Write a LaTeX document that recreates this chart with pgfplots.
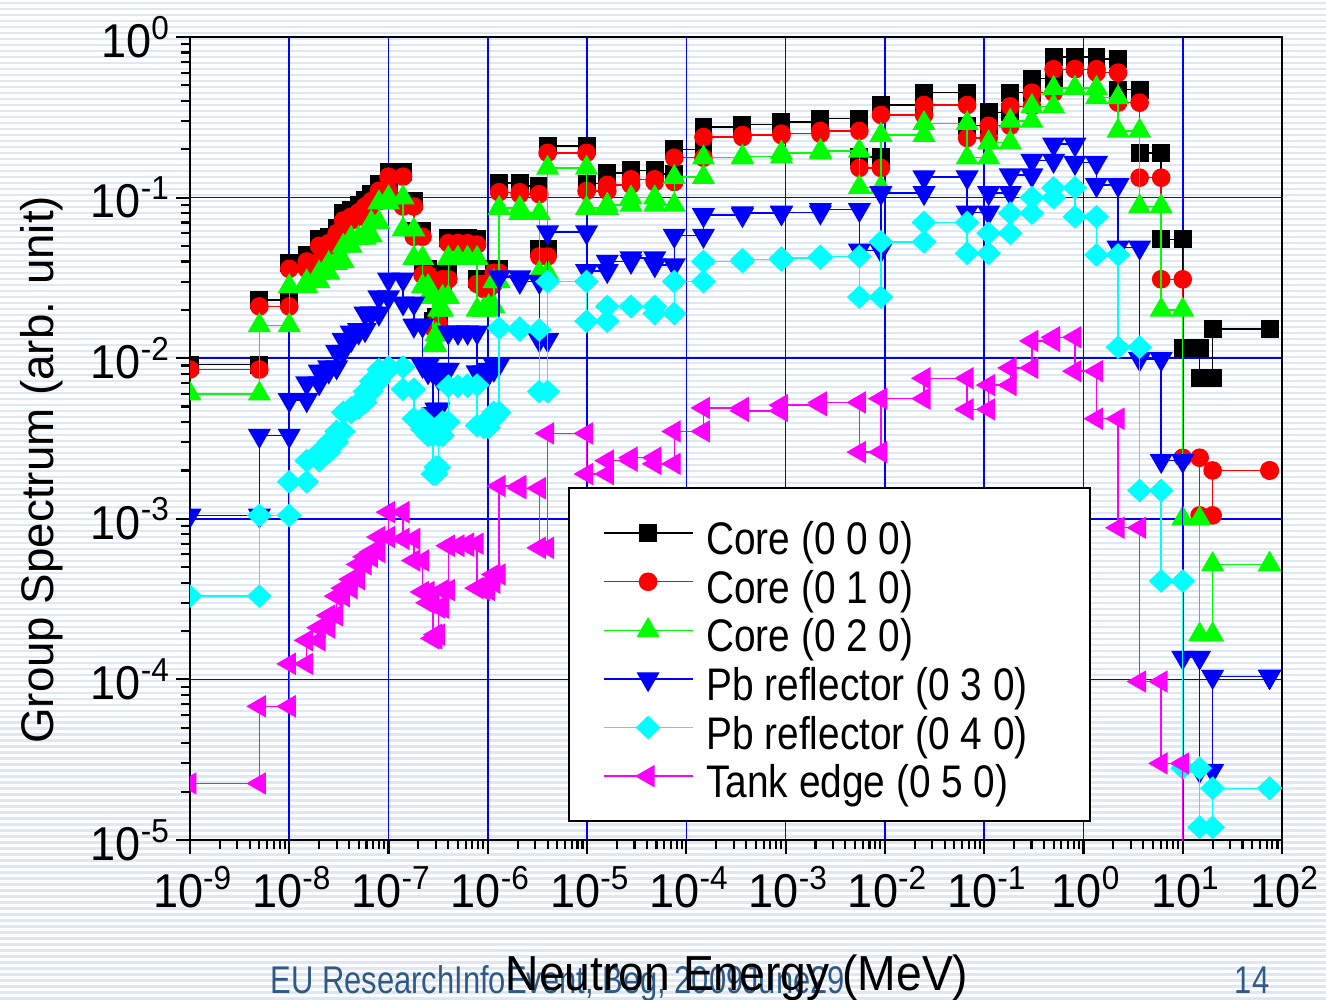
\documentclass[border=0pt]{standalone}
\usepackage{fontspec}
\setmainfont{Liberation Sans}
\newfontfamily\tickfont[FakeStretch=0.95]{Liberation Sans}
\newfontfamily\legfont[FakeStretch=0.85]{Liberation Sans}
\newfontfamily\labfont[FakeStretch=0.94]{Liberation Sans}
\newfontfamily\footfont[FakeStretch=0.8]{Liberation Sans}
\usepackage{pgfplots}
\usepackage{pgfplotstable}
\pgfplotsset{compat=1.18}
\definecolor{pred}{HTML}{FF0000}
\definecolor{pgreen}{HTML}{00FF00}
\definecolor{pblue}{HTML}{0000FF}
\definecolor{pcyan}{HTML}{00FFFF}
\definecolor{pmag}{HTML}{FF00FF}
\definecolor{stripe}{HTML}{DDE8F4}
\definecolor{footblue}{HTML}{2F5A87}

% group spectrum: lower bound, upper bound (MeV), value for each position
\pgfplotstableread{
lo hi B R G Bl C M
1e-9 5e-9 0.0091 0.0085 0.006 0.00105 0.00033 2.25e-5
5e-9 1e-8 0.023 0.021 0.016 0.0033 0.00105 6.8e-5
1e-8 1.5e-8 0.039 0.036 0.028 0.0055 0.0017 1.25e-4
1.5e-8 2e-8 0.044 0.04 0.03 0.007 0.0023 1.75e-4
2e-8 2.5e-8 0.055 0.05 0.034 0.0083 0.0026 2.1e-4
2.5e-8 3e-8 0.057 0.052 0.039 0.0088 0.003 2.5e-4
3e-8 3.5e-8 0.065 0.06 0.04 0.011 0.0035 3.3e-4
3.5e-8 4.2e-8 0.08 0.072 0.05 0.013 0.0046 3.7e-4
4.2e-8 5e-8 0.084 0.076 0.056 0.0145 0.0049 4.2e-4
5e-8 5.8e-8 0.09 0.081 0.056 0.015 0.0053 5.2e-4
5.8e-8 6.7e-8 0.097 0.088 0.058 0.019 0.0062 5.8e-4
6.7e-8 8e-8 0.105 0.095 0.07 0.019 0.0072 6.2e-4
8e-8 1e-7 0.122 0.11 0.093 0.024 0.0085 7.7e-4
1e-7 1.4e-7 0.145 0.135 0.1 0.031 0.0088 1.1e-3
1.4e-7 1.8e-7 0.095 0.088 0.063 0.022 0.0064 7.5e-4
1.8e-7 2.2e-7 0.062 0.057 0.042 0.016 0.0042 5.5e-4
2.2e-7 2.5e-7 0.036 0.033 0.028 0.009 0.0036 3.5e-4
2.5e-7 2.8e-7 0.033 0.03 0.024 0.0082 0.0033 3e-4
2.8e-7 3e-7 0.017 0.0155 0.012 0.0045 0.0019 1.8e-4
3e-7 3.2e-7 0.018 0.0165 0.014 0.0048 0.0021 1.9e-4
3.2e-7 3.5e-7 0.028 0.026 0.02 0.0075 0.0033 2.8e-4
3.5e-7 4e-7 0.034 0.031 0.024 0.0085 0.004 3.6e-4
4e-7 5e-7 0.056 0.052 0.042 0.0145 0.0067 6.8e-4
5e-7 6.25e-7 0.056 0.052 0.042 0.0145 0.0067 6.8e-4
6.25e-7 7.8e-7 0.055 0.051 0.042 0.0145 0.0068 7e-4
7.8e-7 9.1e-7 0.031 0.029 0.02 0.0082 0.0038 3.7e-4
9.1e-7 1.02e-6 0.029 0.027 0.02 0.008 0.0037 3.6e-4
1.02e-6 1.15e-6 0.031 0.029 0.021 0.0085 0.0042 4e-4
1.15e-6 1.3e-6 0.036 0.034 0.03 0.0092 0.0046 4.5e-4
1.3e-6 2.1e-6 0.123 0.108 0.086 0.032 0.0154 1.6e-3
2.1e-6 3.3e-6 0.118 0.105 0.08 0.03 0.015 1.55e-3
3.3e-6 4e-6 0.048 0.043 0.034 0.013 0.0062 6.6e-4
4e-6 9.877e-6 0.21 0.19 0.153 0.061 0.03 3.4e-3
9.877e-6 1.5968e-5 0.122 0.11 0.086 0.035 0.017 1.9e-3
1.5968e-5 2.77e-5 0.142 0.12 0.09 0.04 0.021 2.3e-3
2.77e-5 4.8052e-5 0.148 0.13 0.1 0.042 0.021 2.4e-3
4.8052e-5 7.5501e-5 0.14 0.125 0.09 0.038 0.019 2.2e-3
7.5501e-5 1.4873e-4 0.2 0.177 0.134 0.058 0.03 3.5e-3
1.4873e-4 3.6726e-4 0.275 0.238 0.177 0.078 0.04 4.9e-3
3.6726e-4 9.069e-4 0.285 0.245 0.18 0.08 0.041 4.7e-3
9.069e-4 2.23945e-3 0.295 0.25 0.19 0.081 0.042 5.1e-3
2.23945e-3 5.53e-3 0.31 0.26 0.195 0.084 0.043 5.3e-3
5.53e-3 9.118e-3 0.179 0.153 0.116 0.047 0.024 2.6e-3
9.118e-3 2.478e-2 0.377 0.327 0.245 0.107 0.053 5.6e-3
2.478e-2 6.734e-2 0.45 0.377 0.29 0.134 0.07 7.5e-3
6.734e-2 0.111 0.28 0.235 0.177 0.081 0.045 4.8e-3
0.111 0.183 0.34 0.28 0.22 0.107 0.06 6.8e-3
0.183 0.3025 0.45 0.37 0.3 0.138 0.08 8.7e-3
0.3025 0.5 0.55 0.45 0.37 0.17 0.1 1.28e-2
0.5 0.821 0.75 0.63 0.48 0.215 0.115 1.35e-2
0.821 1.353 0.75 0.63 0.48 0.165 0.076 8.3e-3
1.353 2.231 0.73 0.6 0.42 0.12 0.044 4.2e-3
2.231 3.679 0.47 0.39 0.26 0.049 0.0117 8.8e-4
3.679 6.0655 0.19 0.133 0.088 0.0099 0.0015 9.7e-5
6.0655 10 0.055 0.031 0.02 0.0023 4.1e-4 3e-5
10 14.8 0.0115 0.0024 0.001 1.37e-4 2.8e-5 1e-9
14.8 20 0.0075 0.00105 1.9e-4 2.7e-5 1.2e-5 1e-9
20 75 0.0152 0.002 5.2e-4 1.04e-4 2.1e-5 1e-9
75 75 0.0152 0.002 5.2e-4 1.04e-4 2.1e-5 1e-9
}\spec

\pgfplotsset{
  grp line/.style={const plot, no markers, line width=0.4pt, forget plot},
  grp mark/.style={only marks, forget plot},
}

\begin{document}
\begin{tikzpicture}
\path[use as bounding box] (0,0) rectangle (13.26,10);
\foreach \i in {0,...,166} {\fill[stripe] (0,{\i*0.06}) rectangle (13.26,{\i*0.06+0.025});}
\node[anchor=base west, inner sep=0pt, text=footblue, font=\footfont\fontsize{11}{13}\selectfont] at (2.70,0.06) {EU ResearchInfoEvent, Beg, 2009June29};
\node[anchor=base east, inner sep=0pt, text=footblue, font=\footfont\fontsize{11}{13}\selectfont] at (12.70,0.06) {14};
\begin{axis}[
  at={(1.90cm,1.60cm)}, anchor=south west,
  width=10.92cm, height=8.03cm, scale only axis,
  xmode=log, ymode=log,
  xmin=1e-9, xmax=1e2, ymin=1e-5, ymax=1,
  axis line style={line width=0.75pt},
  tick align=outside, xtick pos=bottom, ytick pos=left,
  major tick length=0.14cm, minor tick length=0.09cm,
  every tick/.style={black, line width=0.6pt},
  grid=major, major grid style={pblue, line width=0.45pt},
  clip marker paths=true,
  xtick={1e-9,1e-8,1e-7,1e-6,1e-5,1e-4,1e-3,1e-2,1e-1,1,10,100},
  xticklabels={10\textsuperscript{-9},10\textsuperscript{-8},10\textsuperscript{-7},10\textsuperscript{-6},10\textsuperscript{-5},10\textsuperscript{-4},10\textsuperscript{-3},10\textsuperscript{-2},10\textsuperscript{-1},10\textsuperscript{0},10\textsuperscript{1},10\textsuperscript{2}},
  ytick={1e-5,1e-4,1e-3,1e-2,1e-1,1},
  yticklabels={10\textsuperscript{-5},10\textsuperscript{-4},10\textsuperscript{-3},10\textsuperscript{-2},10\textsuperscript{-1},10\textsuperscript{0}},
  ticklabel style={font=\tickfont\fontsize{13.5}{15}\selectfont},
  yticklabel style={xshift=0.07cm},
  xticklabel style={xshift=0.03cm},
  xlabel={Neutron Energy (MeV)},
  xlabel style={at={(axis description cs:0.501,-0.187)}, anchor=base, font=\labfont\fontsize{14}{16}\selectfont},
  ylabel={Group Spectrum (arb. unit)},
  ylabel style={at={(axis description cs:-0.1355,0.461)}, anchor=center, font=\fontsize{13}{15}\selectfont},
  legend image code/.code={\draw[#1, mark repeat=2, mark phase=2] plot coordinates {(0cm,0cm) (0.445cm,0cm) (0.89cm,0cm)}; \path (0.95cm,0cm);},
  legend cell align=left,
  legend style={at={(axis description cs:0.346,0.0224)}, anchor=south west, draw=black, line width=0.6pt, fill=white,
    inner xsep=0.34cm, inner ysep=0.205cm, row sep=0pt,
    font=\legfont\fontsize{13}{15}\selectfont,
    nodes={inner ysep=0.028cm, text height=0.43cm, text depth=0cm}},
]
% Core (0 0 0)
\addplot[grp line, black] table[x=lo, y=B] {\spec};
\addplot[grp mark, black, mark=square*, mark size=2.35pt] table[x=lo, y=B] {\spec};
\addplot[grp mark, black, mark=square*, mark size=2.35pt] table[x=hi, y=B] {\spec};
% Core (0 1 0)
\addplot[grp line, pred] table[x=lo, y=R] {\spec};
\addplot[grp mark, pred, mark=*, mark size=2.45pt] table[x=lo, y=R] {\spec};
\addplot[grp mark, pred, mark=*, mark size=2.45pt] table[x=hi, y=R] {\spec};
% Core (0 2 0)
\addplot[grp line, pgreen] table[x=lo, y=G] {\spec};
\addplot[grp mark, pgreen, mark=triangle*, mark size=3.4pt] table[x=lo, y=G] {\spec};
\addplot[grp mark, pgreen, mark=triangle*, mark size=3.4pt] table[x=hi, y=G] {\spec};
% Pb reflector (0 3 0)
\addplot[grp line, pblue] table[x=lo, y=Bl] {\spec};
\addplot[grp mark, pblue, mark=triangle*, mark size=3.4pt, mark options={rotate=180}] table[x=lo, y=Bl] {\spec};
\addplot[grp mark, pblue, mark=triangle*, mark size=3.4pt, mark options={rotate=180}] table[x=hi, y=Bl] {\spec};
% Pb reflector (0 4 0)
\addplot[grp line, pcyan] table[x=lo, y=C] {\spec};
\addplot[grp mark, pcyan, mark=diamond*, mark size=3.1pt, mark options={xscale=1.4}] table[x=lo, y=C] {\spec};
\addplot[grp mark, pcyan, mark=diamond*, mark size=3.1pt, mark options={xscale=1.4}] table[x=hi, y=C] {\spec};
% Tank edge (0 5 0)
\addplot[grp line, pmag] table[x=lo, y=M] {\spec};
\addplot[grp mark, pmag, mark=triangle*, mark size=3.3pt, mark options={rotate=90}] table[x=lo, y=M] {\spec};
\addplot[grp mark, pmag, mark=triangle*, mark size=3.3pt, mark options={rotate=90}] table[x=hi, y=M] {\spec};

\addlegendimage{black, line width=0.4pt, mark=square*, mark size=2.35pt}
\addlegendentry{\makebox[3.43cm][l]{Core (0 0 0)}}
\addlegendimage{pred, line width=0.4pt, mark=*, mark size=2.45pt}
\addlegendentry{Core (0 1 0)}
\addlegendimage{pgreen, line width=0.4pt, mark=triangle*, mark size=3.4pt}
\addlegendentry{Core (0 2 0)}
\addlegendimage{pblue, line width=0.4pt, mark=triangle*, mark size=3.4pt, mark options={rotate=180}}
\addlegendentry{Pb reflector (0 3 0)}
\addlegendimage{pcyan, line width=0.4pt, mark=diamond*, mark size=3.1pt, mark options={xscale=1.4}}
\addlegendentry{Pb reflector (0 4 0)}
\addlegendimage{pmag, line width=0.4pt, mark=triangle*, mark size=3.3pt, mark options={rotate=90}}
\addlegendentry{Tank edge (0 5 0)}
\end{axis}
\end{tikzpicture}
\end{document}
